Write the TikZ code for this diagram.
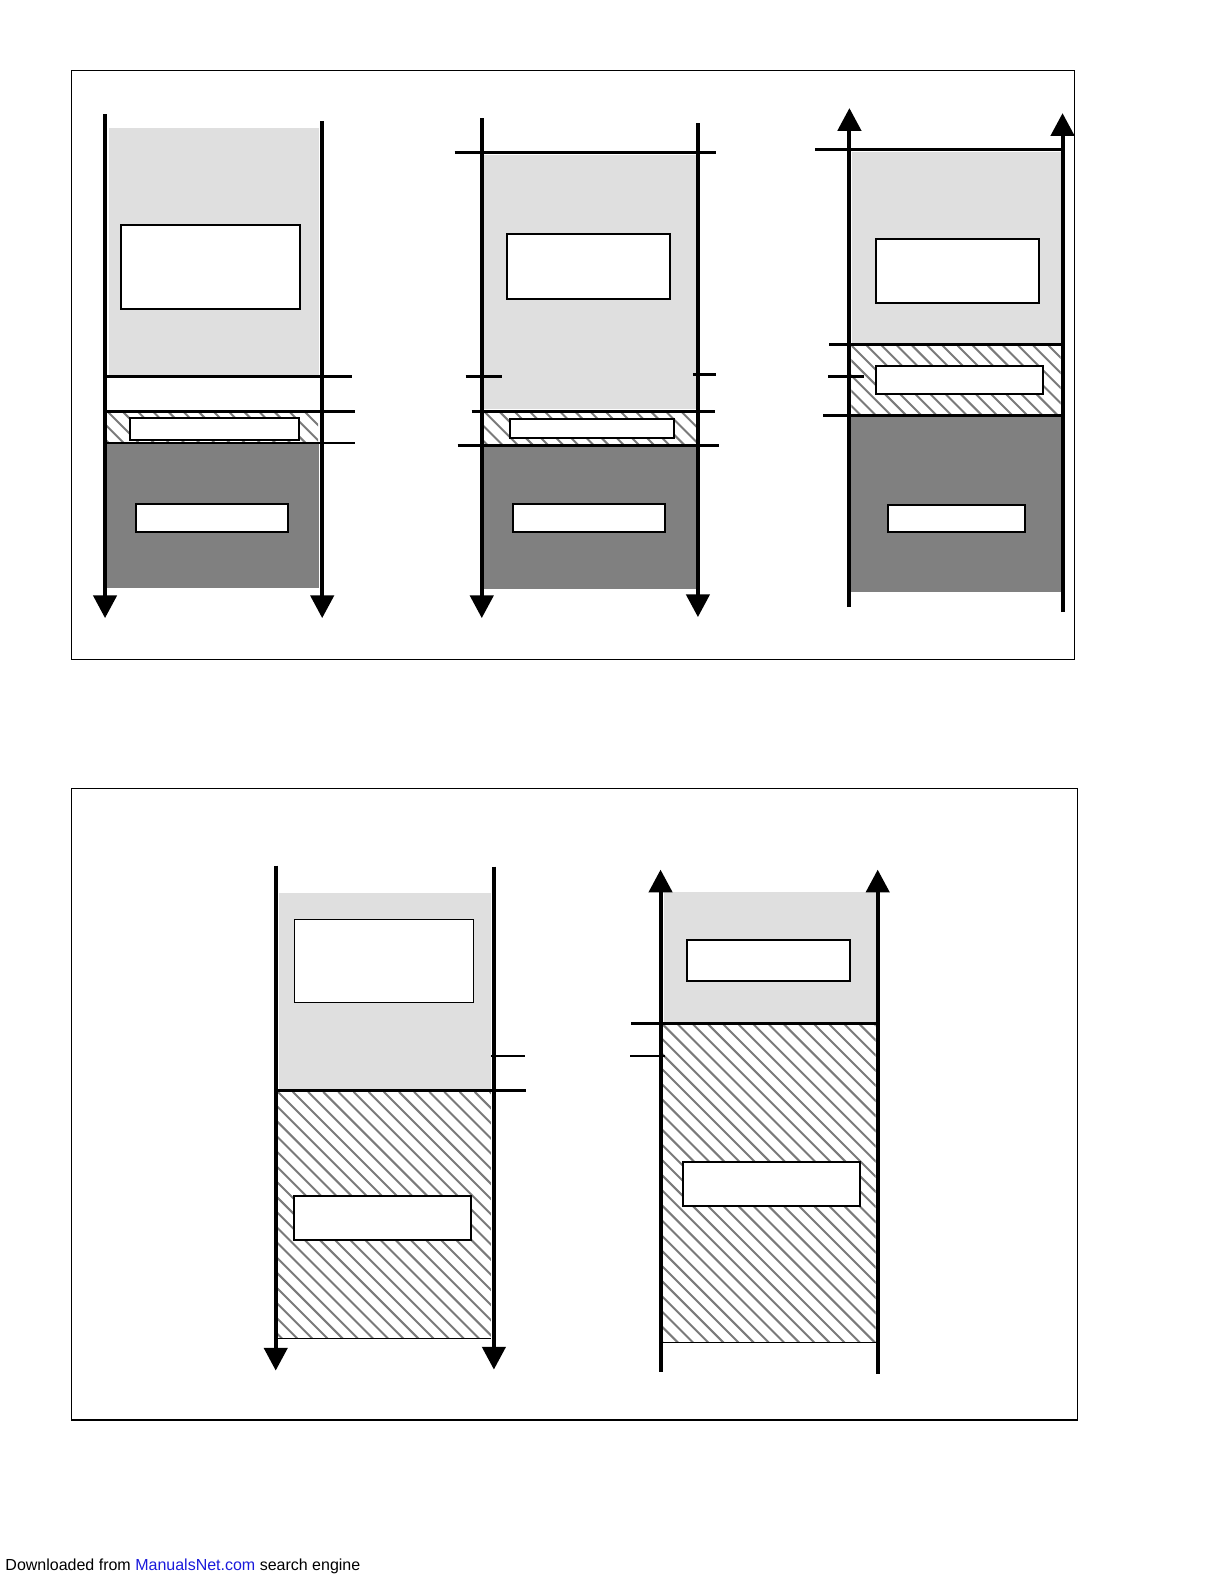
\documentclass[tikz,border=0pt]{standalone}
\usepackage{fontspec}
\setmainfont{Liberation Sans}
\usetikzlibrary{arrows.meta}
\definecolor{lightfill}{HTML}{DFDFDF}
\definecolor{darkfill}{HTML}{808080}
\definecolor{hatchgray}{HTML}{7A7A7A}
\definecolor{linkblue}{HTML}{1A1ADB}
\newcommand\hatchrect[4]{%
  \begin{scope}
    \clip (#1,#2) rectangle (#3,#4);
    \fill[white] (#1,#2) rectangle (#3,#4);
    \foreach \k in {0,15,...,555} \draw[hatchline] ({#1-330+\k},#2) -- ++(330,330);
  \end{scope}}
\begin{document}
\begin{tikzpicture}[x=0.505pt,y=-0.505pt,
  frame/.style={draw,line width=0.6pt},
  axis/.style={line width=2pt},
  arr/.style={-{Triangle[width=11.6pt,length=11.4pt]}},
  hline/.style={line width=1.5pt},
  tick/.style={line width=1.3pt},
  thinline/.style={line width=1pt},
  hatchline/.style={draw=hatchgray,line width=1pt},
  lightregion/.style={fill=lightfill},
  darkregion/.style={fill=darkfill}]
% frames
\draw[frame] (71,70) rectangle (1064,653);
\draw[frame] (71,781) rectangle (1067,1406);

% ===== Diagram A =====
\fill[lightregion] (108,127) rectangle (316,372);
\hatchrect{106}{407}{315}{439}
\fill[darkregion] (106,440) rectangle (316,582);
\node[draw,fill=white,line width=1pt,inner sep=0pt,minimum width=89.4pt,minimum height=41.9pt,anchor=north west] (a1) at (119,222) {};
\node[draw,fill=white,line width=1pt,inner sep=0pt,minimum width=84.3pt,minimum height=11.1pt,anchor=north west] (a2) at (128,413) {};
\node[draw,fill=white,line width=1pt,inner sep=0pt,minimum width=75.8pt,minimum height=14.1pt,anchor=north west] (a3) at (134,498) {};
\coordinate (aLt) at (104,113); \coordinate (aLb) at (104,612);
\coordinate (aRt) at (319,120); \coordinate (aRb) at (319,612);
\draw[axis,arr] (aLt) -- (aLb);
\draw[axis,arr] (aRt) -- (aRb);
\coordinate (a4l) at (104,373); \coordinate (a4r) at (349,373);
\coordinate (a5l) at (104,407); \coordinate (a5r) at (351,407);
\coordinate (a6l) at (104,439); \coordinate (a6r) at (351,439);
\draw[hline] (a4l) -- (a4r);
\draw[hline] (a5l) -- (a5r);
\draw[thinline] (a6l) -- (a6r);

% ===== Diagram B =====
\fill[lightregion] (479,153) rectangle (689,405);
\hatchrect{479}{407}{689}{440}
\fill[darkregion] (479,442) rectangle (689,583);
\node[draw,fill=white,line width=1pt,inner sep=0pt,minimum width=81.3pt,minimum height=32.3pt,anchor=north west] (b1) at (501,231) {};
\node[draw,fill=white,line width=1pt,inner sep=0pt,minimum width=81.8pt,minimum height=9.6pt,anchor=north west] (b2) at (504,414) {};
\node[draw,fill=white,line width=1pt,inner sep=0pt,minimum width=75.8pt,minimum height=14.1pt,anchor=north west] (b3) at (507,498) {};
\coordinate (bLt) at (477,117); \coordinate (bLb) at (477,612);
\coordinate (bRt) at (691,122); \coordinate (bRb) at (691,611);
\draw[axis,arr] (bLt) -- (bLb);
\draw[axis,arr] (bRt) -- (bRb);
\coordinate (b4l) at (450,151); \coordinate (b4r) at (709,151);
\coordinate (b5l) at (461,373); \coordinate (b5r) at (497,373);
\coordinate (b6l) at (686,371); \coordinate (b6r) at (709,371);
\coordinate (b7l) at (467,407); \coordinate (b7r) at (708,407);
\coordinate (b8l) at (453,441); \coordinate (b8r) at (712,441);
\draw[hline] (b4l) -- (b4r);
\draw[tick] (b5l) -- (b5r);
\draw[tick] (b6l) -- (b6r);
\draw[hline] (b7l) -- (b7r);
\draw[hline] (b8l) -- (b8r);

% ===== Diagram C =====
\fill[lightregion] (844,150) rectangle (1050,340);
\hatchrect{843}{342}{1050}{410}
\fill[darkregion] (843,413) rectangle (1050,586);
\node[draw,fill=white,line width=1pt,inner sep=0pt,minimum width=81.8pt,minimum height=31.8pt,anchor=north west] (c1) at (866,236) {};
\node[draw,fill=white,line width=1pt,inner sep=0pt,minimum width=83.8pt,minimum height=14.1pt,anchor=north west] (c2) at (866,361) {};
\node[draw,fill=white,line width=1pt,inner sep=0pt,minimum width=68.7pt,minimum height=13.6pt,anchor=north west] (c3) at (878,499) {};
\coordinate (cLb) at (841,601); \coordinate (cLt) at (841,107);
\coordinate (cRb) at (1052,606); \coordinate (cRt) at (1052,112);
\draw[axis,arr] (cLb) -- (cLt);
\draw[axis,arr] (cRb) -- (cRt);
\coordinate (c4l) at (807,148); \coordinate (c4r) at (1052,148);
\coordinate (c5l) at (821,341); \coordinate (c5r) at (1050,341);
\coordinate (c6l) at (820,373); \coordinate (c6r) at (855,373);
\coordinate (c7l) at (815,411); \coordinate (c7r) at (1052,411);
\draw[hline] (c4l) -- (c4r);
\draw[hline] (c5l) -- (c5r);
\draw[tick] (c6l) -- (c6r);
\draw[hline] (c7l) -- (c7r);

% ===== Diagram D =====
\fill[lightregion] (276,884) rectangle (486,1079);
\hatchrect{275}{1081}{486}{1325}
\draw[line width=0.6pt] (275,1325) -- (486,1325);
\node[draw,fill=white,line width=0.6pt,inner sep=0pt,minimum width=89.4pt,minimum height=41.4pt,anchor=north west] (d1) at (291,910) {};
\node[draw,fill=white,line width=1pt,inner sep=0pt,minimum width=88.4pt,minimum height=22.2pt,anchor=north west] (d2) at (290,1183) {};
\coordinate (dLt) at (273,857); \coordinate (dLb) at (273,1357);
\coordinate (dRt) at (489,858); \coordinate (dRb) at (489,1356);
\draw[axis,arr] (dLt) -- (dLb);
\draw[axis,arr] (dRt) -- (dRb);
\coordinate (d4l) at (486,1046); \coordinate (d4r) at (520,1046);
\coordinate (d5l) at (273,1080); \coordinate (d5r) at (521,1080);
\draw[thinline] (d4l) -- (d4r);
\draw[hline] (d5l) -- (d5r);

% ===== Diagram E =====
\fill[lightregion] (657,883) rectangle (867,1012);
\hatchrect{656}{1014}{867}{1329}
\draw[line width=0.6pt] (656,1329) -- (867,1329);
\node[draw,fill=white,line width=1pt,inner sep=0pt,minimum width=81.8pt,minimum height=20.2pt,anchor=north west] (e1) at (679,930) {};
\node[draw,fill=white,line width=1pt,inner sep=0pt,minimum width=88.4pt,minimum height=22.2pt,anchor=north west] (e2) at (675,1149) {};
\coordinate (eLb) at (654,1358); \coordinate (eLt) at (654,861);
\coordinate (eRb) at (869,1360); \coordinate (eRt) at (869,861);
\draw[axis,arr] (eLb) -- (eLt);
\draw[axis,arr] (eRb) -- (eRt);
\coordinate (e4l) at (625,1013); \coordinate (e4r) at (869,1013);
\coordinate (e5l) at (624,1046); \coordinate (e5r) at (658,1046);
\draw[hline] (e4l) -- (e4r);
\draw[thinline] (e5l) -- (e5r);

% footer
\node[anchor=base west,inner sep=0pt,font=\fontsize{8pt}{9.6pt}\selectfont] (foot) at (5,1555) {Downloaded from \textcolor{linkblue}{ManualsNet.com} search engine};

\pgfresetboundingbox
\path[use as bounding box] (0pt,0pt) rectangle (612pt,-792pt);
\end{tikzpicture}
\end{document}
